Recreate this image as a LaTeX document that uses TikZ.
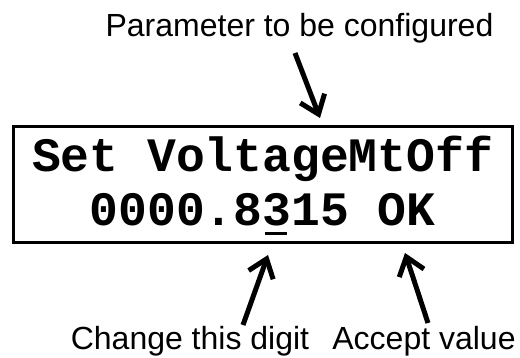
\documentclass[tikz,border=0pt]{standalone}
\usepackage{fontspec}
\setmainfont{Liberation Sans}
\newfontfamily\lcdfont{Liberation Mono}
\usetikzlibrary{arrows.meta}
\begin{document}
\begin{tikzpicture}[x=1pt,y=-1pt,
  lbl/.style={anchor=base,inner sep=0pt,font=\fontsize{32}{38}\selectfont},
  row/.style={anchor=base,inner sep=0pt,font=\lcdfont\bfseries\fontsize{48}{56}\selectfont},
  panel/.style={draw,line width=3pt,minimum width=498.5pt,minimum height=115.5pt,inner sep=0pt},
  ptr/.style={line width=5pt,-{Straight Barb[length=17pt,width=26pt]}}]
\useasboundingbox (0,0) rectangle (520,358);
\node[panel] (lcd) at (262.75,184.75) {};
\node[row] (r1) at (262.5,172) {Set VoltageMtOff};
\node[row] (r2) at (262.5,226) {0000.8\rlap{\hspace{2.5pt}\rule[-9pt]{22pt}{2.5pt}}315 OK};
\node[lbl] (param) at (299.5,37) {Parameter to be configured};
\node[lbl] (change) at (190,350) {Change this digit};
\node[lbl] (accept) at (424,350) {Accept value};
\coordinate (t1) at (295,53);
\coordinate (h1) at (320,118);
\coordinate (t2) at (243,325);
\coordinate (h2) at (268,255);
\coordinate (t3) at (428,323);
\coordinate (h3) at (405,253);
\draw[ptr] (t1) -- (h1);
\draw[ptr] (t2) -- (h2);
\draw[ptr] (t3) -- (h3);
\end{tikzpicture}
\end{document}
